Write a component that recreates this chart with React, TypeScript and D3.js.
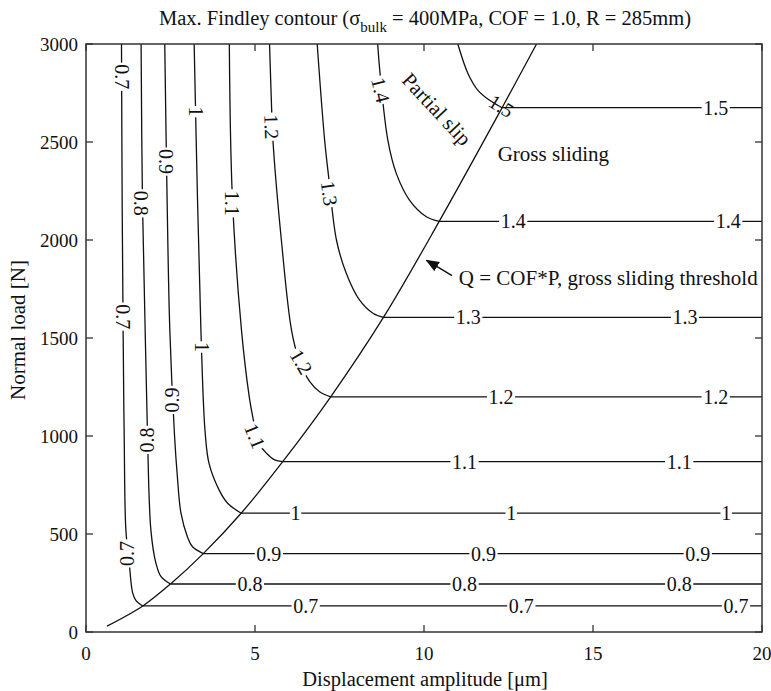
import React from "react";
import * as d3 from "d3";

// contour levels of max. Findley parameter
const levels = [0.7, 0.8, 0.9, 1.0, 1.1, 1.2, 1.3, 1.4, 1.5];

// gross sliding threshold Q = COF*P : displacement [um] vs normal load [N]
const thresholdX = [0.62, 1.68, 2.5, 3.47, 4.59, 5.82, 7.24, 8.8, 10.45, 12.31, 13.33];
const thresholdP = [30, 133, 245, 400, 606, 869, 1200, 1605, 2095, 2675, 3000];

// partial slip branches [displacement, load], top edge down to the threshold
const slip07 = [[1.05, 3000], [1.07, 2200], [1.1, 1500], [1.13, 1000], [1.18, 520], [1.28, 350], [1.38, 200], [1.48, 160], [1.68, 133]];
const slip08 = [[1.63, 3000], [1.67, 2200], [1.75, 1540], [1.82, 1000], [1.92, 520], [2.07, 350], [2.22, 282], [2.5, 245]];
const slip09 = [[2.33, 3000], [2.4, 2200], [2.48, 1540], [2.62, 1000], [2.7, 800], [2.81, 606], [3.0, 486], [3.15, 435], [3.47, 400]];
const slip10 = [[3.2, 3000], [3.3, 2200], [3.4, 1540], [3.52, 1030], [3.64, 860], [3.94, 724], [4.19, 657], [4.59, 606]];
const slip11 = [[4.24, 3000], [4.33, 2220], [4.6, 1540], [4.83, 1200], [4.97, 1065], [5.08, 970], [5.34, 912], [5.58, 878], [5.82, 869]];
const slip12 = [[5.43, 3000], [5.49, 2680], [5.53, 2510], [5.78, 2000], [6.08, 1540], [6.3, 1390], [6.62, 1277], [6.91, 1226], [7.24, 1200]];
const slip13 = [[6.84, 3000], [7.06, 2510], [7.19, 2306], [7.41, 2000], [7.7, 1830], [8.09, 1694], [8.49, 1626], [8.8, 1605]];
const slip14 = [[8.63, 3000], [8.7, 2850], [8.93, 2510], [9.18, 2340], [9.57, 2204], [10.07, 2119], [10.45, 2095]];
const slip15 = [[11.0, 3000], [11.3, 2850], [11.59, 2765], [11.93, 2714], [12.31, 2675]];
const slipBranches = [slip07, slip08, slip09, slip10, slip11, slip12, slip13, slip14, slip15];

// inline label positions (displacement) on the horizontal gross sliding branches
const hLabelX = [
  [6.5, 12.88, 19.23],
  [4.85, 11.2, 17.55],
  [5.41, 11.76, 18.1],
  [6.2, 12.58, 18.94],
  [11.2, 17.55],
  [12.28, 18.63],
  [11.31, 17.72],
  [12.64, 19.0],
  [18.63],
];

// inline labels on the partial slip branches: level, displacement, load, angle
const curveLabels = [
  { v: 0.7, x: 1.06, p: 2833, a: 90 },
  { v: 0.7, x: 1.08, p: 1609, a: 90 },
  { v: 0.7, x: 1.21, p: 401, a: -90 },
  { v: 0.8, x: 1.64, p: 2187, a: 90 },
  { v: 0.8, x: 1.8, p: 980, a: -90 },
  { v: 0.9, x: 2.38, p: 2400, a: 90 },
  { v: 0.9, x: 2.55, p: 1184, a: -90 },
  { v: 1.0, x: 3.24, p: 2655, a: 90 },
  { v: 1.0, x: 3.42, p: 1454, a: 90 },
  { v: 1.1, x: 4.33, p: 2187, a: 90 },
  { v: 1.1, x: 5.0, p: 1000, a: 68 },
  { v: 1.2, x: 5.49, p: 2578, a: 88 },
  { v: 1.2, x: 6.37, p: 1379, a: 60 },
  { v: 1.3, x: 7.2, p: 2238, a: 82 },
  { v: 1.4, x: 8.72, p: 2765, a: 76 },
];

const xTicks = [0, 5, 10, 15, 20];
const yTicks = [0, 500, 1000, 1500, 2000, 2500, 3000];

const W = 771, H = 691;
const margin = { left: 86, right: 9, top: 44, bottom: 59 };
const font = "'Liberation Serif', 'Times New Roman', serif";

const fmt = (v: number) => (Math.round(v * 10) / 10).toString();

function Label({ x, y, a, text, fs }: { x: number; y: number; a: number; text: string; fs: number }) {
  const w = text.length * fs * 0.42 + 3;
  const h = fs * 0.75;
  return (
    <g transform={`translate(${x},${y}) rotate(${a})`}>
      <rect x={-w / 2} y={-h / 2} width={w} height={h} fill="#fff" />
      <text textAnchor="middle" dy="0.35em" fontSize={fs} fill="#111">{text}</text>
    </g>
  );
}

export default function App() {
  const x = d3.scaleLinear().domain([0, 20]).range([margin.left, W - margin.right]);
  const y = d3.scaleLinear().domain([0, 3000]).range([H - margin.bottom, margin.top]);

  const line = d3.line<number[]>().x(d => x(d[0])).y(d => y(d[1])).curve(d3.curveCatmullRom.alpha(0.5));
  const threshold = thresholdX.map((t, i) => [t, thresholdP[i]]);

  const x0 = x(0), x1 = x(20), y0 = y(0), y1 = y(3000);
  const tk = 7;
  const lfs = 20;
  const afs = 21;

  return (
    <svg width={W} height={H} style={{ position: "absolute", left: 0, top: 0, display: "block", background: "#fff" }} fontFamily={font}>
      <defs>
        <marker id="ah" viewBox="0 0 10 10" refX="9" refY="5" markerWidth="9" markerHeight="9" orient="auto">
          <path d="M0,1 L10,5 L0,9 z" fill="#111" />
        </marker>
      </defs>

      <text x={425} y={25} textAnchor="middle" fontSize={20.5} fill="#111">
        Max. Findley contour (σ<tspan dy="7" fontSize={15}>bulk</tspan><tspan dy="-7"> = 400MPa, COF = 1.0, R = 285mm)</tspan>
      </text>

      {/* partial slip branches */}
      {slipBranches.map((b, i) => (
        <path key={"s" + i} d={line(b) ?? ""} fill="none" stroke="#111" strokeWidth={1.3} />
      ))}
      {/* gross sliding branches */}
      {slipBranches.map((b, i) => {
        const end = b[b.length - 1];
        return <line key={"h" + i} x1={x(end[0])} x2={x(20)} y1={y(end[1])} y2={y(end[1])} stroke="#111" strokeWidth={1.3} />;
      })}
      {/* threshold */}
      <path d={line(threshold) ?? ""} fill="none" stroke="#111" strokeWidth={1.3} />

      {/* inline labels */}
      {hLabelX.map((xs, i) => {
        const b = slipBranches[i];
        const p = b[b.length - 1][1];
        return xs.map((lx, j) => <Label key={`hl${i}-${j}`} x={x(lx)} y={y(p)} a={0} text={fmt(levels[i])} fs={lfs} />);
      })}
      {curveLabels.map((c, i) => (
        <Label key={"cl" + i} x={x(c.x)} y={y(c.p)} a={c.a} text={fmt(c.v)} fs={lfs} />
      ))}
      <text transform={`translate(${x(12.29)},${y(2684)}) rotate(32)`} textAnchor="middle" dy="0.35em" fontSize={lfs} fill="#111">1.5</text>

      {/* annotations */}
      <text transform={`translate(${x(10.38)},${y(2668)}) rotate(47)`} textAnchor="middle" dy="0.35em" fontSize={afs} fill="#111">Partial slip</text>
      <text x={x(12.18)} y={y(2403)} fontSize={afs} fill="#111">Gross sliding</text>
      <text x={x(11.03)} y={y(1770)} fontSize={afs} fill="#111">Q = COF*P, gross sliding threshold</text>
      <line x1={x(10.83)} y1={y(1818)} x2={x(10.08)} y2={y(1896)} stroke="#111" strokeWidth={1.5} markerEnd="url(#ah)" />

      {/* frame and ticks */}
      <rect x={x0} y={y1} width={x1 - x0} height={y0 - y1} fill="none" stroke="#333" strokeWidth={1.5} />
      {xTicks.map(t => (
        <g key={"xt" + t}>
          <line x1={x(t)} x2={x(t)} y1={y0} y2={y0 - tk} stroke="#333" strokeWidth={1.3} />
          <line x1={x(t)} x2={x(t)} y1={y1} y2={y1 + tk} stroke="#333" strokeWidth={1.3} />
          <text x={x(t)} y={y0 + 28} textAnchor="middle" fontSize={19} fill="#111">{t}</text>
        </g>
      ))}
      {yTicks.map(t => (
        <g key={"yt" + t}>
          <line x1={x0} x2={x0 + tk} y1={y(t)} y2={y(t)} stroke="#333" strokeWidth={1.3} />
          <line x1={x1} x2={x1 - tk} y1={y(t)} y2={y(t)} stroke="#333" strokeWidth={1.3} />
          <text x={x0 - 8} y={y(t)} dy="0.35em" textAnchor="end" fontSize={19} fill="#111">{t}</text>
        </g>
      ))}

      <text x={425} y={686} textAnchor="middle" fontSize={20.5} fill="#111">Displacement amplitude [μm]</text>
      <text transform={`translate(25,330) rotate(-90)`} textAnchor="middle" fontSize={21} fill="#111">Normal load [N]</text>
    </svg>
  );
}
